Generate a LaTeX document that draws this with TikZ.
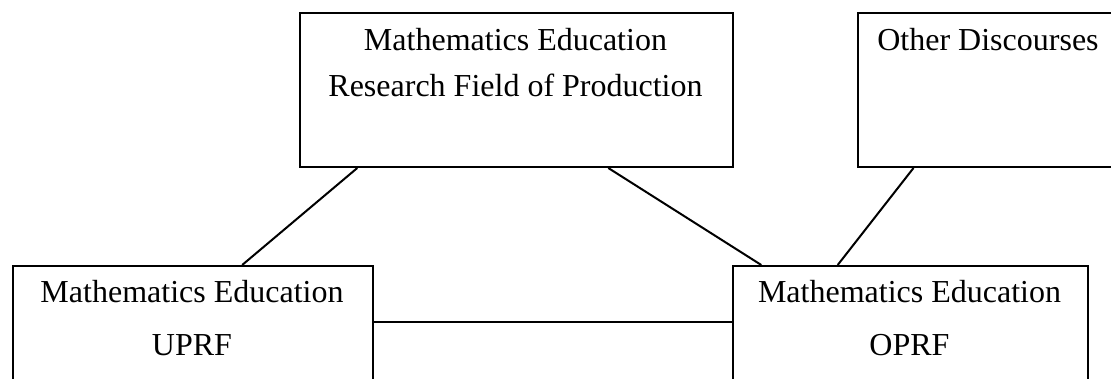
\documentclass[tikz,border=0pt]{standalone}
\usepackage{fontspec}
\setmainfont{Liberation Serif}
\usetikzlibrary{positioning, calc}
\tikzset{
  fieldbox/.style={rectangle, draw=black, line width=1pt, inner sep=0pt,
    anchor=north west},
  fieldtext/.style={align=center, anchor=base, inner sep=0pt,
    font=\fontsize{16}{23}\selectfont},
  lowtext/.style={fieldtext, font=\fontsize{16}{26.5}\selectfont},
  link/.style={line width=1pt, color=black}
}

\begin{document}
\begin{tikzpicture}[x=0.5pt, y=0.5pt]
  \useasboundingbox (0,0) rectangle (1111,379);

  % Field boxes
  \node[fieldbox, minimum width=216.5pt, minimum height=77pt] (research) at (299,367) {};
  \node[fieldbox, minimum width=131pt, minimum height=77pt] (other) at (857,367) {};
  \node[fieldbox, minimum width=180.2pt, minimum height=80pt] (uprf) at (11.7,114) {};
  \node[fieldbox, minimum width=177.5pt, minimum height=80pt] (oprf) at (732,114) {};

  % Box texts (placed by the baseline of their last line)
  \node[fieldtext] (researchtxt) at (515.5,282.3) {Mathematics Education\\Research Field of Production};
  \node[fieldtext] (othertxt) at (988,328) {Other Discourses};
  \node[lowtext] (uprftxt) at (192,23) {Mathematics Education\\UPRF};
  \node[lowtext] (oprftxt) at (909.5,23) {Mathematics Education\\OPRF};

  % Links between fields
  \draw[link] ($(research.south west)!0.134!(research.south east)$) -- ($(uprf.north west)!0.636!(uprf.north east)$);
  \draw[link] ($(research.south west)!0.711!(research.south east)$) -- ($(oprf.north west)!0.082!(oprf.north east)$);
  \draw[link] ($(other.south west)!0.214!(other.south east)$) -- ($(oprf.north west)!0.296!(oprf.north east)$);
  \draw[link] ($(uprf.north east)+(0,-57)$) -- ($(oprf.north west)+(0,-57)$);
\end{tikzpicture}
\end{document}
